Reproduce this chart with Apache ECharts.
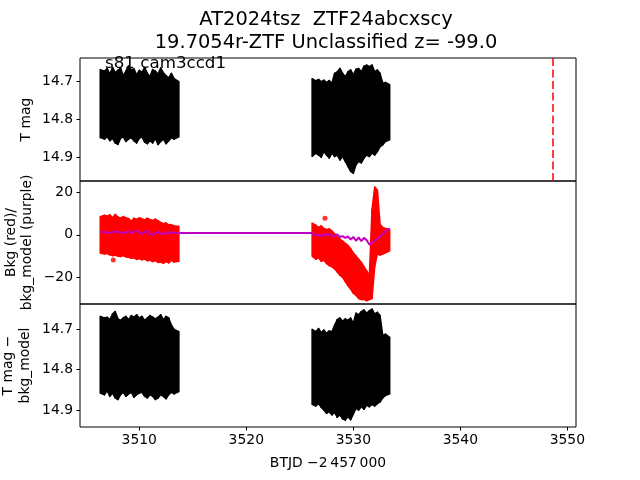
<!DOCTYPE html>
<html><head><meta charset="utf-8">
<script src="https://cdn.jsdelivr.net/npm/echarts@6/dist/echarts.min.js"></script>
<style>html,body{margin:0;padding:0;background:#fff}#c{width:640px;height:480px}</style>
</head><body><div id="c"></div>
<script>
// ---------- data ----------
const T1 = [3506.35, 3506.75, 3507.00, 3507.25, 3507.50, 3507.75, 3508.00, 3508.25, 3508.50, 3508.75,
            3509.00, 3509.25, 3509.50, 3509.75, 3510.00, 3510.25, 3510.50, 3510.75, 3511.00, 3511.25,
            3511.50, 3511.75, 3512.00, 3512.25, 3512.50, 3512.75, 3513.00, 3513.25, 3513.70];
const T2 = [3526.15, 3526.50, 3526.75, 3527.00, 3527.25, 3527.50, 3527.75, 3528.00, 3528.25, 3528.50,
            3528.75, 3529.00, 3529.25, 3529.50, 3529.75, 3530.00, 3530.25, 3530.50, 3530.75, 3531.00,
            3531.25, 3531.50, 3531.75, 3532.00, 3532.25, 3532.50, 3532.75, 3533.00, 3533.40];

// panel 1: T mag envelope (bright edge / faint edge)
const mag1Top = [14.668, 14.672, 14.665, 14.680, 14.662, 14.676, 14.670, 14.664, 14.684, 14.672,
                 14.658, 14.668, 14.666, 14.682, 14.670, 14.675, 14.662, 14.678, 14.686, 14.668,
                 14.672, 14.680, 14.664, 14.676, 14.684, 14.690, 14.678, 14.692, 14.700];
const mag1Bot = [14.848, 14.852, 14.845, 14.856, 14.850, 14.862, 14.866, 14.850, 14.846, 14.858,
                 14.852, 14.848, 14.856, 14.862, 14.850, 14.846, 14.860, 14.864, 14.856, 14.862,
                 14.850, 14.866, 14.858, 14.852, 14.864, 14.856, 14.848, 14.852, 14.846];
const mag2Top = [14.692, 14.698, 14.694, 14.700, 14.696, 14.702, 14.697, 14.704, 14.678, 14.674,
                 14.665, 14.678, 14.687, 14.674, 14.669, 14.682, 14.667, 14.665, 14.674, 14.659,
                 14.656, 14.660, 14.656, 14.674, 14.669, 14.678, 14.704, 14.702, 14.708];
const mag2Bot = [14.898, 14.889, 14.894, 14.900, 14.885, 14.894, 14.902, 14.889, 14.898, 14.894,
                 14.907, 14.898, 14.911, 14.924, 14.937, 14.942, 14.920, 14.911, 14.915, 14.902,
                 14.894, 14.898, 14.889, 14.894, 14.885, 14.872, 14.867, 14.858, 14.854];

// panel 3: T mag - bkg_model envelope
const cor1Top = [14.668, 14.672, 14.670, 14.676, 14.662, 14.656, 14.674, 14.678, 14.672, 14.668,
                 14.676, 14.666, 14.670, 14.664, 14.672, 14.668, 14.678, 14.672, 14.666, 14.670,
                 14.674, 14.670, 14.664, 14.676, 14.668, 14.672, 14.690, 14.700, 14.706];
const cor1Bot = [14.858, 14.862, 14.852, 14.866, 14.858, 14.870, 14.874, 14.862, 14.856, 14.866,
                 14.860, 14.856, 14.868, 14.862, 14.858, 14.856, 14.866, 14.870, 14.862, 14.866,
                 14.874, 14.870, 14.862, 14.866, 14.872, 14.862, 14.856, 14.860, 14.854];
const cor2Top = [14.700, 14.706, 14.698, 14.708, 14.702, 14.710, 14.704, 14.706, 14.690, 14.676,
                 14.672, 14.680, 14.674, 14.678, 14.672, 14.685, 14.660, 14.664, 14.656, 14.652,
                 14.660, 14.654, 14.650, 14.662, 14.658, 14.666, 14.715, 14.712, 14.720];
const cor2Bot = [14.886, 14.890, 14.884, 14.893, 14.900, 14.908, 14.904, 14.912, 14.906, 14.918,
                 14.912, 14.922, 14.925, 14.916, 14.924, 14.910, 14.896, 14.900, 14.892, 14.898,
                 14.888, 14.892, 14.886, 14.890, 14.884, 14.880, 14.870, 14.864, 14.860];

// panel 2: background envelope (red) and model (purple)
const bkg1Top = [8.5, 9.2, 8.8, 9.4, 8.0, 9.6, 8.4, 7.8, 8.6, 8.0,
                 7.6, 6.4, 7.8, 7.2, 8.0, 7.6, 7.0, 7.8, 7.2, 6.8,
                 7.4, 6.6, 5.8, 5.2, 5.6, 4.6, 4.8, 4.2, 4.0];
const bkg1Bot = [-8.6, -9.0, -8.8, -9.4, -9.8, -9.6, -10.0, -10.2, -9.8, -10.4,
                 -10.6, -11.0, -10.8, -11.6, -11.2, -11.8, -11.4, -12.2, -12.0, -12.6,
                 -12.2, -13.0, -12.8, -13.4, -12.6, -13.2, -12.0, -12.8, -12.4];
const bkg2Top = [5.5, 4.5, 3.5, 4.2, 3.0, 2.5, 2.8, 1.8, 0.5, -1.0,
                 -2.0, -3.0, -4.0, -5.0, -6.5, -8.5, -10.0, -11.5, -13.0, -15.0,
                 -17.0, -19.0, 12.0, 22.5, 21.0, 5.0, 3.5, 3.0, 2.5];
const bkg2Bot = [-10.0, -11.5, -10.8, -12.5, -12.0, -13.5, -14.5, -15.0, -16.0, -17.5,
                 -19.0, -20.0, -22.0, -24.0, -25.5, -27.5, -28.5, -30.0, -30.5, -30.5,
                 -31.0, -30.5, -30.0, -15.0, -9.0, -9.5, -9.0, -8.5, -7.5];
const bkgOutT = [3507.57, 3527.35];
const bkgOutV = [-11.8, 7.8];
const model1 = [1.6, 1.0, 1.4, 0.8, 1.2, 1.8, 1.0, 1.4, 0.6, 1.2,
                1.6, 0.8, 1.4, 2.2, 1.0, 0.4, 1.2, 1.8, 0.6, -0.2,
                0.8, 1.4, 0.2, 0.6, 1.2, 0.4, 1.4, 0.8, 0.8];
const model2 = [0.8, -0.4, 0.0, -0.6, 0.2, -0.2, 0.4, -0.8, -0.4, 0.2,
                -1.0, -0.6, -1.4, -0.8, -2.2, -1.0, -2.8, -1.2, -3.0, -1.4,
                -2.6, -4.6, -3.8, -2.6, -2.0, -0.8, 0.4, 1.6, 3.0];

const markerTime = 3548.64;
const xTicks = [3510, 3520, 3530, 3540, 3550];
const magTicks = [14.7, 14.8, 14.9];
const bkgTicks = [-20, 0, 20];

const titleLine1 = 'AT2024tsz  ZTF24abcxscy';
const titleLine2 = '19.7054r-ZTF Unclassified z= -99.0';
const sectorLabel = 's81 cam3ccd1';
const xName = 'BTJD \u22122\u2009457\u2009000';

// ---------- chart ----------
const FONT = '"DejaVu Sans", sans-serif';
const chart = echarts.init(document.getElementById('c'), null, {renderer: 'canvas'});

function band(idx, times, lo, hi, color) {
  return {
    type: 'custom', xAxisIndex: idx, yAxisIndex: idx, silent: true, clip: true, z: 2,
    data: times.map((t, i) => [t, lo[i], hi[i]]),
    renderItem: function (params, api) {
      const i = params.dataIndex;
      if (i >= times.length - 1) return null;
      const p1 = api.coord([times[i], lo[i]]);
      const p2 = api.coord([times[i + 1], lo[i + 1]]);
      const p3 = api.coord([times[i + 1], hi[i + 1]]);
      const p4 = api.coord([times[i], hi[i]]);
      return {type: 'polygon', shape: {points: [p1, p2, p3, p4]},
              style: {fill: color, stroke: color, lineWidth: 1.5, lineJoin: 'round'}};
    }
  };
}

const minus = v => (v < 0 ? '\u2212' + Math.abs(v) : String(v));

function xAx(idx, showLabels) {
  return {
    type: 'value', gridIndex: idx, min: 3504.46, max: 3550.81,
    axisLine: {show: false}, splitLine: {show: false},
    axisTick: {show: showLabels, length: 3.5, customValues: xTicks, lineStyle: {color: '#000', width: 1}},
    axisLabel: {show: showLabels, customValues: xTicks, margin: 6, color: '#000', fontSize: 13.9, fontFamily: FONT,
                formatter: v => String(v)}
  };
}
function yAx(idx, min, max, inverse, ticks) {
  return {
    type: 'value', gridIndex: idx, min: min, max: max, inverse: inverse,
    axisLine: {show: false}, splitLine: {show: false},
    axisTick: {show: true, length: 3.5, customValues: ticks, lineStyle: {color: '#000', width: 1}},
    axisLabel: {show: true, customValues: ticks, margin: 7, color: '#000', fontSize: 13.9, fontFamily: FONT,
                formatter: v => minus(v)}
  };
}

const gridStyle = {show: true, borderColor: '#000', borderWidth: 1, backgroundColor: 'transparent', left: 80, right: 64, containLabel: false};

const option = {
  animation: false,
  backgroundColor: '#fff',
  grid: [
    Object.assign({top: 58, height: 123}, gridStyle),
    Object.assign({top: 181, height: 123}, gridStyle),
    Object.assign({top: 304, height: 123}, gridStyle)
  ],
  xAxis: [xAx(0, false), xAx(1, false), xAx(2, true)],
  yAxis: [
    yAx(0, 14.6373, 14.9627, true, magTicks),
    yAx(1, -32.56, 25.32, false, bkgTicks),
    yAx(2, 14.6373, 14.942, true, magTicks)
  ],
  series: [
    band(0, T1, mag1Bot, mag1Top, '#000'),
    band(0, T2, mag2Bot, mag2Top, '#000'),
    {
      type: 'line', xAxisIndex: 0, yAxisIndex: 0, data: [], silent: true,
      markLine: {silent: true, symbol: 'none', label: {show: false},
                 lineStyle: {color: '#ff0000', type: [8, 3.5], width: 1.5},
                 data: [{xAxis: markerTime}]}
    },
    band(1, T1, bkg1Bot, bkg1Top, '#ff0000'),
    band(1, T2, bkg2Bot, bkg2Top, '#ff0000'),
    {
      type: 'scatter', xAxisIndex: 1, yAxisIndex: 1, symbolSize: 5, silent: true,
      itemStyle: {color: '#ff0000'},
      data: bkgOutT.map((t, i) => [t, bkgOutV[i]])
    },
    {
      type: 'line', xAxisIndex: 1, yAxisIndex: 1, showSymbol: false, silent: true, z: 5,
      lineStyle: {color: '#bf00bf', width: 2},
      data: T1.map((t, i) => [t, model1[i]]).concat(T2.map((t, i) => [t, model2[i]]))
    },
    band(2, T1, cor1Bot, cor1Top, '#000'),
    band(2, T2, cor2Bot, cor2Top, '#000')
  ],
  graphic: [
    {type: 'text', x: 326, y: 20, style: {text: titleLine1, font: '19.44px ' + FONT, fill: '#000', align: 'center', verticalAlign: 'middle'}},
    {type: 'text', x: 326, y: 42.5, style: {text: titleLine2, font: '19.44px ' + FONT, fill: '#000', align: 'center', verticalAlign: 'middle'}},
    {type: 'text', x: 105, y: 64, z: 10, style: {text: sectorLabel, font: '16.7px ' + FONT, fill: '#000', align: 'left', verticalAlign: 'middle'}},
    {type: 'text', x: 26, y: 119.5, rotation: Math.PI / 2, style: {text: 'T mag', font: '13.9px ' + FONT, fill: '#000', align: 'center', verticalAlign: 'middle'}},
    {type: 'text', x: 19.5, y: 242.5, rotation: Math.PI / 2, style: {text: 'Bkg (red)/\nbkg_model (purple)', font: '13.9px ' + FONT, lineHeight: 16.7, fill: '#000', align: 'center', verticalAlign: 'middle'}},
    {type: 'text', x: 17, y: 365.5, rotation: Math.PI / 2, style: {text: 'T mag \u2212\nbkg_model', font: '13.9px ' + FONT, lineHeight: 16.7, fill: '#000', align: 'center', verticalAlign: 'middle'}},
    {type: 'text', x: 328, y: 463, style: {text: xName, font: '13.9px ' + FONT, fill: '#000', align: 'center', verticalAlign: 'middle'}}
  ]
};
chart.setOption(option);
</script></body></html>
